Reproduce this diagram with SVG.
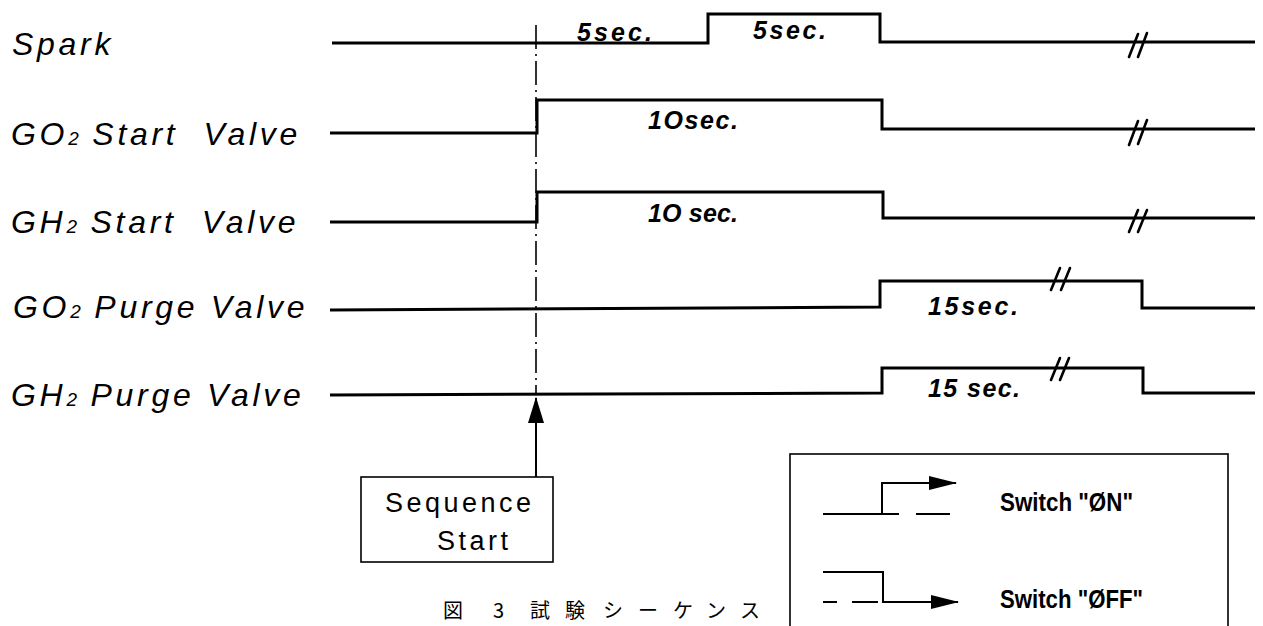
<svg xmlns="http://www.w3.org/2000/svg" width="1263" height="626" viewBox="0 0 1263 626">
<style>
.sig{fill:none;stroke:#000;stroke-width:3;stroke-linejoin:miter}
.brk{fill:none;stroke:#000;stroke-width:2.6;stroke-linecap:round}
.lbl{font-family:"Liberation Sans",Arial,sans-serif;font-size:32px;font-style:italic;letter-spacing:3.7px;fill:#000;white-space:pre}
.sub{font-size:19px;letter-spacing:1px}
.tm{font-family:"Liberation Sans",Arial,sans-serif;font-size:25px;font-style:italic;font-weight:bold;fill:#000}
.box{fill:#fff;stroke:#000;stroke-width:1.6}
.bt{font-family:"Liberation Sans",Arial,sans-serif;font-size:27px;letter-spacing:3.5px;fill:#000}
.lg{font-family:"Liberation Sans",Arial,sans-serif;font-size:26px;font-weight:bold;fill:#000}
.thin{fill:none;stroke:#000;stroke-width:2}
.cap{font-family:"Noto Sans CJK JP","Noto Sans CJK SC",sans-serif;font-size:20px;fill:#000}
</style>
<defs>
<marker id="ah" markerWidth="28" markerHeight="14" refX="27" refY="7" orient="auto" markerUnits="userSpaceOnUse">
<path d="M0,0 L28,7 L0,14 Z" fill="#000"/>
</marker>
<marker id="ahUp" markerWidth="26" markerHeight="16" refX="25" refY="8" orient="auto" markerUnits="userSpaceOnUse">
<path d="M0,0 L26,8 L0,16 Z" fill="#000"/>
</marker>
</defs>

<text class="cap" x="443 493 530 565 603 638 673 706 740" y="618">図3試験シーケンス</text>

<g id="labels">
<text class="lbl" x="12" y="55">Spark</text>
<text class="lbl" x="11" y="145">GO<tspan class="sub">2</tspan> Start  Valve</text>
<text class="lbl" x="11" y="233">GH<tspan class="sub">2</tspan> Start  Valve</text>
<text class="lbl" x="13" y="318">GO<tspan class="sub">2</tspan> Purge Valve</text>
<text class="lbl" x="11" y="406">GH<tspan class="sub">2</tspan> Purge Valve</text>
</g>

<g id="connectors">
<line x1="536" y1="25" x2="536" y2="395" stroke="#000" stroke-width="1.6" stroke-dasharray="24 5 2 5"/>
<line x1="536" y1="477" x2="536" y2="398" stroke="#000" stroke-width="2" marker-end="url(#ahUp)"/>
</g>

<g id="spark">
<path class="sig" d="M332,43 L708,43 L708,14 L880,14 L880,42 L1255,42"/>
<path class="brk" d="M1129,57 L1138,34 M1138,57 L1147,33"/>
<text class="tm" x="577" y="41" textLength="75" lengthAdjust="spacing">5sec.</text>
<text class="tm" x="753" y="39" textLength="73" lengthAdjust="spacing">5sec.</text>
</g>

<g id="go2-start">
<path class="sig" d="M330,133 L537,133 L537,100 L882,100 L882,129 L1255,129"/>
<path class="brk" d="M1129,145 L1138,121 M1138,144 L1147,120"/>
<text class="tm" x="648" y="129" textLength="90" lengthAdjust="spacing">1Osec.</text>
</g>

<g id="gh2-start">
<path class="sig" d="M330,222 L537,222 L537,192 L883,192 L883,218 L1255,218"/>
<path class="brk" d="M1129,232 L1138,210 M1138,232 L1147,210"/>
<text class="tm" x="648" y="222" textLength="90" lengthAdjust="spacing">1O sec.</text>
</g>

<g id="go2-purge">
<path class="sig" d="M330,310 L880,307 L880,281 L1142,281 L1142,308 L1255,308"/>
<path class="brk" d="M1051,290 L1060,268 M1061,290 L1070,268"/>
<text class="tm" x="928" y="315" textLength="90" lengthAdjust="spacing">15sec.</text>
</g>

<g id="gh2-purge">
<path class="sig" d="M330,395 L882,393 L882,368 L1143,368 L1143,393 L1255,393"/>
<path class="brk" d="M1051,380 L1060,358 M1060,380 L1069,358"/>
<text class="tm" x="928" y="397" textLength="92" lengthAdjust="spacing">15 sec.</text>
</g>

<g id="sequence-start">
<rect class="box" x="361" y="477" width="192" height="85"/>
<text class="bt" x="385" y="512">Sequence</text>
<text class="bt" x="437" y="550">Start</text>
</g>

<g id="legend">
<rect class="box" x="790" y="454" width="438" height="190"/>
<path class="thin" d="M823,514 L882,514 L882,483 L956,483" marker-end="url(#ah)"/>
<path class="thin" d="M882,514 L899,514 M916,514 L950,514"/>
<text class="lg" x="1000" y="511" textLength="133" lengthAdjust="spacingAndGlyphs">Switch "ØN"</text>
<path class="thin" d="M823,572 L883,572 L883,602 L958,602" marker-end="url(#ah)"/>
<path class="thin" d="M823,602 L837,602 M852,602 L878,602"/>
<text class="lg" x="1000" y="608" textLength="143" lengthAdjust="spacingAndGlyphs">Switch "ØFF"</text>
</g>
</svg>
